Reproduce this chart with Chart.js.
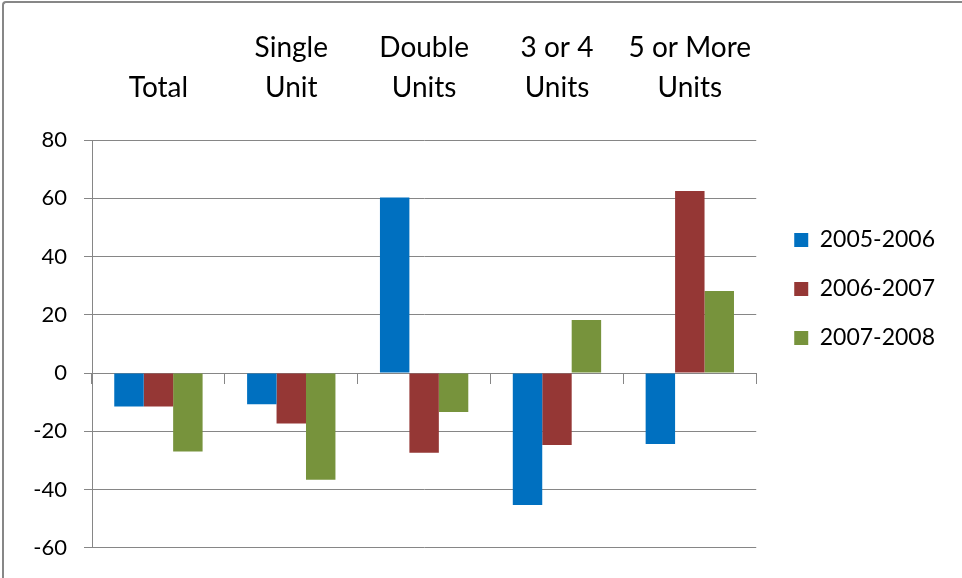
<!DOCTYPE html>
<html>
<head>
<meta charset="utf-8">
<script src="https://cdn.jsdelivr.net/npm/chart.js@4/dist/chart.umd.min.js"></script>
<style>
  html, body { margin: 0; padding: 0; background: #fff; overflow: hidden; }
  #wrap { position: relative; width: 962px; height: 578px; }
  #chart { position: absolute; left: 0; top: 0; }
  #frame {
    position: absolute; left: 2px; top: 1px; width: 1100px; height: 700px;
    border-top: 2px solid #878787; border-left: 2px solid #878787;
    border-top-left-radius: 4px; pointer-events: none; box-sizing: border-box;
  }
</style>
</head>
<body>
<div id="wrap">
  <canvas id="chart" width="962" height="578"></canvas>
  <div id="frame"></div>
</div>
<script>
// Dwelling categories (multi-line labels)
const categories = [
  ['Total'],
  ['Single', 'Unit'],
  ['Double', 'Units'],
  ['3 or 4', 'Units'],
  ['5 or More', 'Units']
];
const seriesNames = ['2005-2006', '2006-2007', '2007-2008'];
// Percent change per period
const change0506 = [-11.5, -10.7, 60.3, -45.3, -24.4];
const change0607 = [-11.5, -17.3, -27.4, -24.7, 62.5];
const change0708 = [-26.9, -36.6, -13.4, 18.2, 28.2];
const seriesColors = ['#0070C0', '#953735', '#77933C'];
const yTicks = { min: -60, max: 80, step: 20 };

const font = 'Lato, "Liberation Sans", sans-serif';
const gridColor = '#868686';

function draw() {
  new Chart(document.getElementById('chart'), {
    type: 'bar',
    data: {
      labels: categories,
      datasets: [change0506, change0607, change0708].map((values, i) => ({
        label: seriesNames[i],
        data: values,
        backgroundColor: seriesColors[i],
        borderWidth: 0,
        xAxisID: 'x',
        yAxisID: 'y'
      }))
    },
    options: {
      responsive: false,
      animation: false,
      events: [],
      layout: { padding: { top: 0, left: 0, right: 17, bottom: 0 } },
      datasets: { bar: { categoryPercentage: 0.665, barPercentage: 1 } },
      scales: {
        // axis line drawn at the zero value with category boundary ticks
        x: {
          type: 'category',
          position: { y: 0 },
          offset: true,
          grid: { display: true, offset: true, drawOnChartArea: false, drawTicks: true, tickLength: 10, color: gridColor, lineWidth: 1 },
          border: { display: true, color: gridColor, width: 1 },
          ticks: { display: false },
          afterFit: s => { s.height = 30; }
        },
        // category names above the plot
        x2: {
          type: 'category',
          position: 'top',
          offset: true,
          grid: { display: false, drawTicks: false, tickLength: 0 },
          border: { display: false },
          ticks: {
            color: '#000',
            font: { family: font, size: 28, lineHeight: 40 / 28 },
            padding: 32,
            maxRotation: 0,
            autoSkip: false
          },
          afterFit: s => { s.height = 140; }
        },
        y: {
          type: 'linear',
          position: 'left',
          min: yTicks.min,
          max: yTicks.max,
          ticks: {
            stepSize: yTicks.step,
            color: '#000',
            font: { family: font, size: 22 },
            padding: 17
          },
          grid: { color: gridColor, lineWidth: 1, drawTicks: true, tickLength: 8 },
          border: { display: true, color: gridColor, width: 1 },
          afterFit: s => { s.width = 92; }
        },
        // hidden spacer between plot and legend
        gap: {
          type: 'linear',
          position: 'right',
          display: false,
          afterFit: s => { s.width = 12; }
        }
      },
      plugins: {
        legend: {
          position: 'right',
          align: 'center',
          labels: {
            color: '#000',
            font: { family: font, size: 23 },
            boxWidth: 14,
            boxHeight: 14,
            padding: 26
          }
        },
        tooltip: { enabled: false }
      }
    }
  });
}

Promise.all([
  document.fonts.load('22px Lato'),
  document.fonts.load('28px Lato')
]).then(draw, draw);
</script>
</body>
</html>
